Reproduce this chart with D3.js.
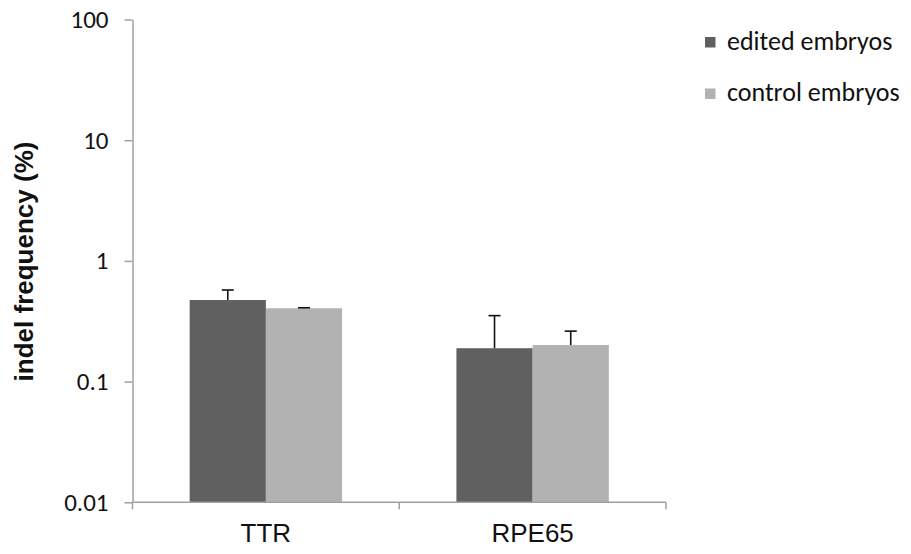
<!DOCTYPE html>
<html>
<head>
<meta charset="utf-8">
<script src="https://cdn.jsdelivr.net/npm/d3@7"></script>
<style>
  body { margin: 0; background: #fff; }
  svg { display: block; }
</style>
</head>
<body>
<div id="chart"></div>
<script>
// values
const categories = ['TTR', 'RPE65'];
const seriesNames = ['edited embryos', 'control embryos'];
const editedValues = [0.474, 0.189];
const controlValues = [0.405, 0.201];
const editedErrors = [0.10, 0.163];
const controlErrors = [0.004, 0.061];
const yTickValues = [0.01, 0.1, 1, 10, 100];
const yTickLabels = ['0.01', '0.1', '1', '10', '100'];

const colors = ['#606060', '#b2b2b2'];
const axisColor = '#a0a0a0';
const width = 911;
const height = 554;
const margin = { top: 19.5, right: 245, bottom: 51.7, left: 132.5 };

const rows = categories.map((c, i) => ({
  cat: c,
  vals: [
    { s: seriesNames[0], v: editedValues[i], e: editedErrors[i] },
    { s: seriesNames[1], v: controlValues[i], e: controlErrors[i] }
  ]
}));

const svg = d3.select('#chart')
  .append('svg')
  .attr('width', width)
  .attr('height', height);

const x0 = d3.scaleBand()
  .domain(categories)
  .range([margin.left, width - margin.right])
  .padding(0);

const x1 = d3.scaleBand()
  .domain(seriesNames)
  .range([0, x0.bandwidth()])
  .paddingInner(0)
  .paddingOuter(0.75);

const y = d3.scaleLog()
  .domain([0.01, 100])
  .range([height - margin.bottom, margin.top]);

const color = d3.scaleOrdinal().domain(seriesNames).range(colors);

// bars
const groups = svg.append('g')
  .selectAll('g')
  .data(rows)
  .join('g')
  .attr('transform', d => 'translate(' + x0(d.cat) + ',0)');

groups.selectAll('rect')
  .data(d => d.vals)
  .join('rect')
  .attr('x', d => x1(d.s))
  .attr('width', x1.bandwidth())
  .attr('y', d => y(d.v))
  .attr('height', d => y(0.01) - y(d.v))
  .attr('fill', d => color(d.s));

// error bars (plus side only)
const err = groups.selectAll('g.err')
  .data(d => d.vals)
  .join('g')
  .attr('class', 'err')
  .attr('stroke', '#111')
  .attr('stroke-width', 1.6);

err.append('line')
  .attr('x1', d => x1(d.s) + x1.bandwidth() / 2)
  .attr('x2', d => x1(d.s) + x1.bandwidth() / 2)
  .attr('y1', d => y(d.v))
  .attr('y2', d => y(d.v + d.e));

err.append('line')
  .attr('x1', d => x1(d.s) + x1.bandwidth() / 2 - 6)
  .attr('x2', d => x1(d.s) + x1.bandwidth() / 2 + 6)
  .attr('y1', d => y(d.v + d.e))
  .attr('y2', d => y(d.v + d.e));

// y axis
svg.append('g')
  .attr('class', 'axis')
  .attr('transform', 'translate(' + margin.left + ',0)')
  .call(d3.axisLeft(y)
    .tickValues(yTickValues)
    .tickFormat((d, i) => yTickLabels[i])
    .tickSize(8)
    .tickSizeOuter(0)
    .tickPadding(16))
  .call(g => g.selectAll('text')
    .attr('font-family', 'Carlito, "Open Sans", sans-serif')
    .attr('font-size', 25)
    .attr('fill', '#111'));

// x axis: line with ticks on the category boundaries
const xAxis = svg.append('g')
  .attr('class', 'axis')
  .attr('transform', 'translate(0,' + y(0.01) + ')');

xAxis.append('line')
  .attr('x1', x0.range()[0])
  .attr('x2', x0.range()[1])
  .attr('stroke', axisColor);

const bounds = categories.map(c => x0(c)).concat([x0.range()[1]]);
xAxis.selectAll('line.bt')
  .data(bounds)
  .join('line')
  .attr('class', 'bt')
  .attr('x1', d => d)
  .attr('x2', d => d)
  .attr('y1', 0)
  .attr('y2', 7)
  .attr('stroke', axisColor);

xAxis.selectAll('text')
  .data(categories)
  .join('text')
  .attr('x', d => x0(d) + x0.bandwidth() / 2)
  .attr('y', 39.5)
  .attr('text-anchor', 'middle')
  .attr('font-family', '"Liberation Sans", Arial, sans-serif')
  .attr('font-size', 26)
  .attr('fill', '#111')
  .text(d => d);

d3.selectAll('.axis path')
  .style('stroke', axisColor)
  .style('stroke-width', 1.5);
d3.selectAll('.axis line')
  .style('stroke', axisColor)
  .style('stroke-width', 1.5);

// y axis title
svg.append('text')
  .attr('transform', 'translate(33,' + 261.5 + ') rotate(-90)')
  .attr('text-anchor', 'middle')
  .attr('font-family', '"Liberation Sans", Arial, sans-serif')
  .attr('font-weight', 'bold')
  .attr('font-size', 26)
  .attr('fill', '#111')
  .text('indel frequency (%)');

// legend
const legend = svg.append('g')
  .selectAll('g')
  .data(seriesNames)
  .join('g')
  .attr('transform', (d, i) => 'translate(705,' + (37 + i * 51.5) + ')');

legend.append('rect')
  .attr('width', 10.5)
  .attr('height', 10.5)
  .attr('fill', d => color(d));

legend.append('text')
  .attr('x', 22)
  .attr('y', 12.5)
  .attr('font-family', 'Carlito, "Open Sans", sans-serif')
  .attr('font-size', 26)
  .attr('fill', '#111')
  .text(d => d);
</script>
</body>
</html>
